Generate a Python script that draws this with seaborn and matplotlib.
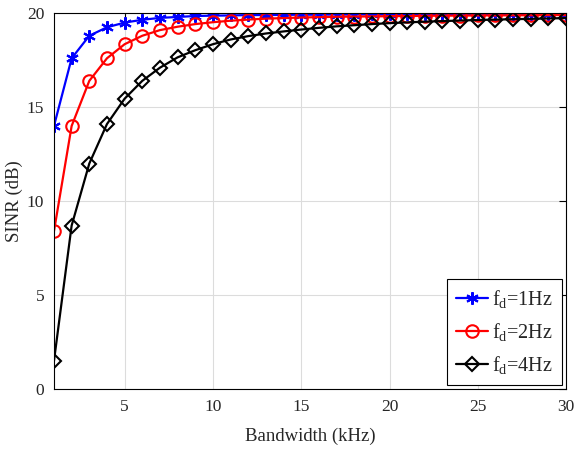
import pandas as pd
import seaborn as sns
import matplotlib.pyplot as plt

# bandwidth in kHz
bandwidth = list(range(1, 31))

# SINR (dB)
sinr_1hz = [14.0, 17.6, 18.8, 19.25, 19.5, 19.65, 19.75, 19.8, 19.85, 19.87,
            19.88, 19.9, 19.9, 19.91, 19.92, 19.92, 19.93, 19.93, 19.94, 19.94,
            19.94, 19.95, 19.95, 19.95, 19.96, 19.96, 19.96, 19.96, 19.97, 19.97]
sinr_2hz = [8.4, 14.0, 16.4, 17.6, 18.35, 18.8, 19.1, 19.28, 19.42, 19.52,
            19.6, 19.66, 19.71, 19.74, 19.77, 19.79, 19.81, 19.82, 19.83, 19.84,
            19.85, 19.86, 19.87, 19.87, 19.88, 19.88, 19.89, 19.89, 19.9, 19.9]
sinr_4hz = [1.5, 8.7, 12.0, 14.1, 15.45, 16.4, 17.1, 17.65, 18.03, 18.35,
            18.6, 18.78, 18.92, 19.03, 19.13, 19.22, 19.3, 19.36, 19.42, 19.47,
            19.51, 19.55, 19.58, 19.61, 19.64, 19.66, 19.68, 19.7, 19.72, 19.74]

labels = [r'f$_{\rm d}$=1Hz', r'f$_{\rm d}$=2Hz', r'f$_{\rm d}$=4Hz']
colors = ['blue', 'red', 'black']

df = pd.DataFrame({
    'bw': bandwidth * 3,
    'sinr': sinr_1hz + sinr_2hz + sinr_4hz,
    'case': [labels[0]] * 30 + [labels[1]] * 30 + [labels[2]] * 30,
})

sns.set_style('white')
plt.rcParams['font.family'] = ['Liberation Serif', 'DejaVu Serif']
plt.rcParams['mathtext.fontset'] = 'custom'
plt.rcParams['mathtext.rm'] = 'Liberation Serif'
plt.rcParams['mathtext.it'] = 'Liberation Serif:italic'

fig = plt.figure(figsize=(5.78, 4.55), dpi=100)
ax = fig.add_axes([0.0934, 0.145, 0.886, 0.826])

sns.lineplot(data=df, x='bw', y='sinr', hue='case', style='case',
             palette=dict(zip(labels, colors)),
             markers=dict(zip(labels, ['*', 'o', 'D'])),
             dashes=False, linewidth=1.6, ax=ax, legend=False)

# matlab-like markers: asterisk, open circle, open diamond
ax.lines[0].set_marker((6, 2, 0))
sizes = [9, 9, 7.5]
for line, c, ms in zip(ax.lines, colors, sizes):
    line.set_markersize(ms)
    line.set_markerfacecolor('none')
    line.set_markeredgecolor(c)
    line.set_markeredgewidth(1.5)

ax.set_xlim(1, 30)
ax.set_ylim(0, 20)
ax.set_xticks([5, 10, 15, 20, 25, 30])
ax.set_yticks([0, 5, 10, 15, 20])
ax.grid(True, color='#dcdcdc', linewidth=0.8)
ax.tick_params(direction='in', length=5, labelsize=12.5, pad=7, top=True,
               right=True, color='black')
for sp in ax.spines.values():
    sp.set_color('black')
    sp.set_linewidth(0.8)
ax.set_xlabel('Bandwidth (kHz)', fontsize=13.5, labelpad=9)
ax.set_ylabel('SINR (dB)', fontsize=13.5, labelpad=3)

leg = ax.legend(ax.lines[:3], labels, loc='lower right', fontsize=14.5,
                fancybox=False, framealpha=1, edgecolor='black',
                handlelength=1.6, handletextpad=0.2, borderpad=0.45,
                labelspacing=0.55, borderaxespad=0.2)
leg.get_frame().set_linewidth(0.8)

plt.savefig('out.png', dpi=100)
